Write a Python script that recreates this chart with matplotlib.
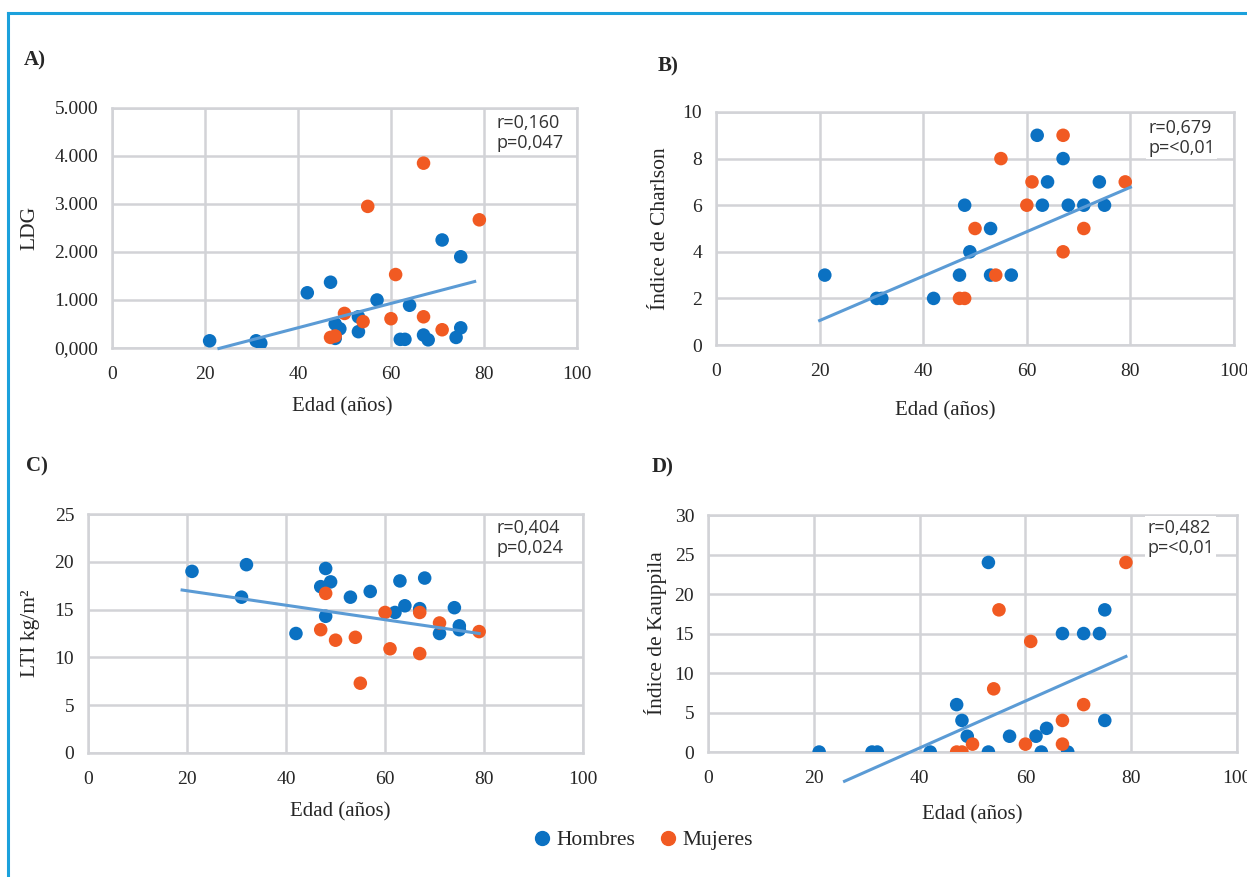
import matplotlib
matplotlib.use('Agg')
import matplotlib.pyplot as plt
from matplotlib.lines import Line2D

# colores
azul = '#0b71c2'
naranja = '#f15a22'
linea = '#5b9bd5'
rejilla = '#d2d3d7'
borde = '#1ba1dc'

edad_ticks = [0, 20, 40, 60, 80, 100]

# A) LDG
a_h_x = [21, 31, 32, 42, 47, 48, 49, 48, 53, 53, 57, 64, 62, 63, 67, 68, 71, 75, 75, 74]
a_h_y = [150, 150, 100, 1150, 1370, 500, 400, 200, 650, 340, 1000, 890, 180, 180, 270, 170, 2250, 1900, 420, 220]
a_m_x = [67, 55, 79, 61, 50, 54, 60, 67, 71, 47, 48]
a_m_y = [3850, 2950, 2670, 1530, 720, 550, 610, 650, 380, 220, 250]
a_trend_x = [23, 78]
a_trend_y = [-10, 1385]
a_yticks = [0, 1000, 2000, 3000, 4000, 5000]
a_ylabels = ['0,000', '1.000', '2.000', '3.000', '4.000', '5.000']

# B) Charlson
b_h_x = [21, 31, 32, 42, 47, 48, 49, 53, 53, 57, 62, 63, 64, 67, 68, 71, 74, 75]
b_h_y = [3, 2, 2, 2, 3, 6, 4, 5, 3, 3, 9, 6, 7, 8, 6, 6, 7, 6]
b_m_x = [47, 48, 50, 54, 55, 60, 61, 67, 67, 71, 79]
b_m_y = [2, 2, 5, 3, 8, 6, 7, 9, 4, 5, 7]
b_trend_x = [20, 80]
b_trend_y = [1.05, 6.77]
b_yticks = [0, 2, 4, 6, 8, 10]

# C) LTI
c_h_x = [21, 32, 31, 48, 47, 49, 48, 42, 53, 57, 63, 68, 64, 62, 67, 74, 71, 75, 75]
c_h_y = [19.0, 19.7, 16.3, 19.3, 17.4, 17.9, 14.3, 12.5, 16.3, 16.9, 18.0, 18.3, 15.4, 14.7, 15.1, 15.2, 12.5, 13.3, 12.9]
c_m_x = [48, 47, 50, 54, 55, 60, 61, 67, 67, 71, 79]
c_m_y = [16.7, 12.9, 11.8, 12.1, 7.3, 14.7, 10.9, 14.7, 10.4, 13.6, 12.7]
c_trend_x = [19, 79]
c_trend_y = [17.05, 12.5]
c_yticks = [0, 5, 10, 15, 20, 25]

# D) Kauppila
d_h_x = [21, 31, 32, 42, 47, 48, 49, 53, 53, 57, 62, 64, 63, 68, 67, 71, 74, 75, 75]
d_h_y = [0, 0, 0, 0, 6, 4, 2, 24, 0, 2, 2, 3, 0, 0, 15, 15, 15, 18, 4]
d_m_x = [47, 48, 50, 54, 55, 60, 61, 67, 67, 71, 79]
d_m_y = [0, 0, 1, 8, 18, 1, 14, 4, 1, 6, 24]
d_trend_x = [25.8, 79]
d_trend_y = [-3.7, 12.1]
d_yticks = [0, 5, 10, 15, 20, 25, 30]

serif = 'Liberation Serif'
sans = 'Open Sans'

fig = plt.figure(figsize=(12.47, 8.77), dpi=100)
fig.patch.set_facecolor('white')


def panel(rect, hx, hy, mx, my, tx, ty, yticks, ylabels, ylabel, stats,
          ylab_x, xlab_x, xlab_y, stats_xy):
    ax = fig.add_axes(rect)
    ax.scatter(hx, hy, s=95, color=azul, edgecolors='none', zorder=3)
    ax.scatter(mx, my, s=95, color=naranja, edgecolors='none', zorder=3)
    ax.plot(tx, ty, color=linea, lw=2.2, zorder=4, clip_on=False)
    ax.set_xlim(0, 100)
    ax.set_ylim(yticks[0], yticks[-1])
    ax.set_xticks(edad_ticks)
    ax.set_yticks(yticks)
    ax.set_yticklabels(ylabels)
    ax.grid(True, color=rejilla, lw=1.8, zorder=0)
    ax.set_axisbelow(True)
    for s in ax.spines.values():
        s.set_color(rejilla)
        s.set_linewidth(1.8)
    ax.tick_params(length=0, pad=10, labelsize=14, labelcolor='#262626')
    for lab in ax.get_xticklabels() + ax.get_yticklabels():
        lab.set_fontfamily(serif)
    ax.tick_params(axis='x', pad=13)
    ax.set_xlabel('Edad (años)', fontsize=15, family=serif, color='#262626')
    ax.xaxis.label.set_va('center')
    ax.xaxis.set_label_coords(xlab_x, xlab_y)
    ax.set_ylabel(ylabel, fontsize=15.5, family=serif, color='#262626')
    ax.yaxis.label.set_va('center')
    ax.yaxis.set_label_coords(ylab_x, 0.5)
    ax.text(stats_xy[0], stats_xy[1], stats, transform=ax.transAxes,
            ha='left', va='top', fontsize=13, family=sans, color='#333333',
            linespacing=1.15, zorder=5,
            bbox=dict(facecolor='white', edgecolor='none', pad=1.5))
    return ax


panel([0.0898, 0.6032, 0.3729, 0.2737], a_h_x, a_h_y, a_m_x, a_m_y,
      a_trend_x, a_trend_y, a_yticks, a_ylabels, 'LDG',
      'r=0,160\np=0,047', -0.176, 0.495, -0.246, (0.826, 0.975))
panel([0.5742, 0.6066, 0.4154, 0.2657], b_h_x, b_h_y, b_m_x, b_m_y,
      b_trend_x, b_trend_y, b_yticks, [str(v) for v in b_yticks],
      'Índice de Charlson', 'r=0,679\np=<0,01', -0.108, 0.442, -0.283,
      (0.834, 0.970))
panel([0.0706, 0.1414, 0.3970, 0.2725], c_h_x, c_h_y, c_m_x, c_m_y,
      c_trend_x, c_trend_y, c_yticks, [str(v) for v in c_yticks],
      'LTI kg/m²', 'r=0,404\np=0,024', -0.117, 0.509, -0.247,
      (0.826, 0.980))
panel([0.5678, 0.1425, 0.4242, 0.2702], d_h_x, d_h_y, d_m_x, d_m_y,
      d_trend_x, d_trend_y, d_yticks, [str(v) for v in d_yticks],
      'Índice de Kauppila', 'r=0,482\np=<0,01', -0.100, 0.499, -0.266,
      (0.830, 0.985))

# etiquetas de panel
for txt, px, py in [('A)', 24, 60), ('B)', 658, 66), ('C)', 26, 466), ('D)', 652, 467)]:
    fig.text(px / 1247, 1 - py / 877, txt, ha='left', va='center',
             fontsize=15, fontweight='bold', family=serif, color='#262626')

# leyenda
handles = [Line2D([], [], marker='o', ls='none', markersize=10, color=azul, label='Hombres'),
           Line2D([], [], marker='o', ls='none', markersize=10, color=naranja, label='Mujeres')]
fig.legend(handles=handles, loc='center', bbox_to_anchor=(641 / 1247, 1 - 840 / 877),
           ncol=2, frameon=False, prop={'family': serif, 'size': 15.5},
           handletextpad=0.1, handlelength=1.2, columnspacing=0.9, labelcolor='#262626')

# marco azul
fig.add_artist(Line2D([8 / 1247, 8 / 1247], [0, 1 - 13 / 877], color=borde, lw=2.2,
                      transform=fig.transFigure))
fig.add_artist(Line2D([8 / 1247, 1], [1 - 13 / 877, 1 - 13 / 877], color=borde, lw=2.2,
                      transform=fig.transFigure))

fig.savefig('out.png', dpi=100)
